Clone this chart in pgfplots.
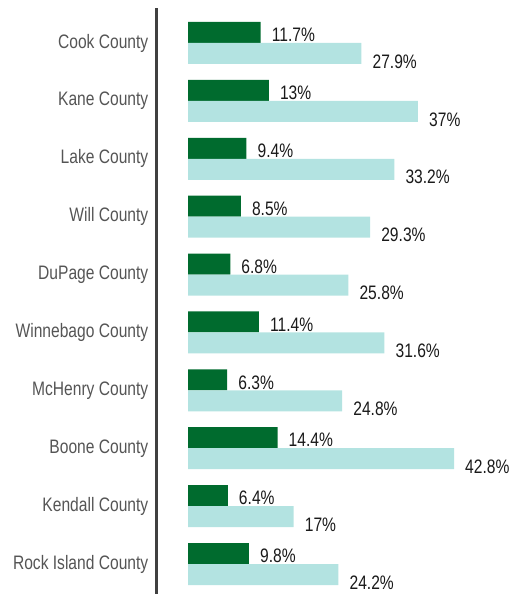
\documentclass[border=0pt]{standalone}
\usepackage{pgfplots}
\pgfplotsset{compat=1.18}
\usepackage{fontspec}
\setmainfont{Liberation Sans}[FakeStretch=0.8]
\definecolor{darkg}{HTML}{006B2E}
\definecolor{lightt}{HTML}{B3E3E1}
\definecolor{axisgray}{HTML}{404040}
\definecolor{catgray}{HTML}{555555}
\definecolor{valtxt}{HTML}{1A1A1A}
\begin{document}
\begin{tikzpicture}
\path[use as bounding box] (0,0) rectangle (514pt,594pt);
\begin{axis}[
  at={(157pt,0pt)}, anchor=south west,
  scale only axis, width=357pt, height=586pt,
  xmin=-4.99, xmax=52.45,
  ymin=-0.518, ymax=9.604,
  xbar, bar width=21pt,
  axis x line=none,
  axis y line*=left,
  axis line style={line width=3pt, color=axisgray, -},
  ytick={0,...,9},
  yticklabels={Rock Island County,Kendall County,Boone County,McHenry County,Winnebago County,DuPage County,Will County,Lake County,Kane County,Cook County},
  major tick length=0pt,
  yticklabel style={font=\fontsize{19.5}{20}\selectfont, text=catgray, inner sep=0pt, xshift=-8.5pt},
  clip=false,
  point meta=explicit symbolic,
  nodes near coords,
  nodes near coords style={font=\fontsize{19.5}{20}\selectfont, text=valtxt, anchor=west, inner sep=0pt},
]
\addplot[fill=darkg, draw=none, bar shift=10.5pt, nodes near coords style={xshift=11pt, yshift=-2.5pt}] coordinates {
(11.7,9) [11.7\%]
(13,8) [13\%]
(9.4,7) [9.4\%]
(8.5,6) [8.5\%]
(6.8,5) [6.8\%]
(11.4,4) [11.4\%]
(6.3,3) [6.3\%]
(14.4,2) [14.4\%]
(6.4,1) [6.4\%]
(9.8,0) [9.8\%]
};
\addplot[fill=lightt, draw=none, bar shift=-10.5pt, nodes near coords style={xshift=11pt, yshift=-8pt}] coordinates {
(27.9,9) [27.9\%]
(37,8) [37\%]
(33.2,7) [33.2\%]
(29.3,6) [29.3\%]
(25.8,5) [25.8\%]
(31.6,4) [31.6\%]
(24.8,3) [24.8\%]
(42.8,2) [42.8\%]
(17,1) [17\%]
(24.2,0) [24.2\%]
};
\end{axis}
\end{tikzpicture}
\end{document}
